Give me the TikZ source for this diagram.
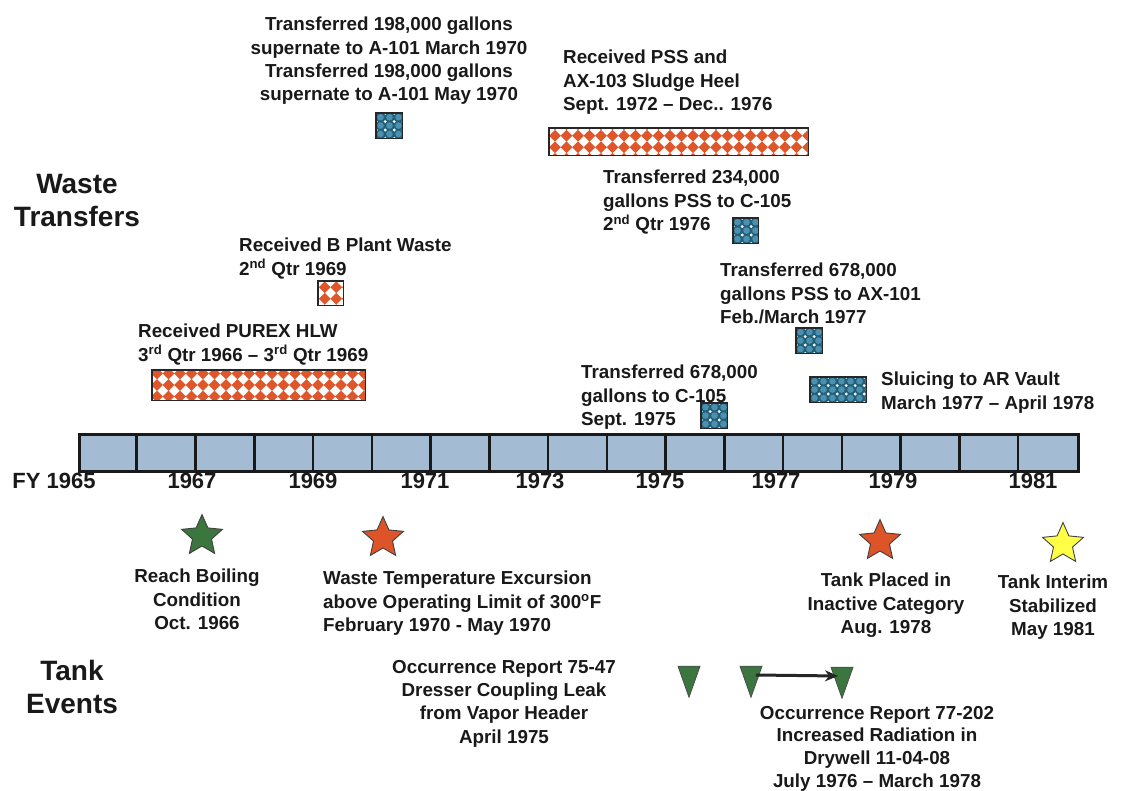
\documentclass[tikz,border=0pt]{standalone}
\usepackage{fontspec}
\setmainfont{Liberation Sans}
\usetikzlibrary{shapes.geometric,arrows.meta,calc}
\definecolor{txt}{RGB}{25,25,25}
\definecolor{dorange}{RGB}{222,86,42}
\definecolor{tlfill}{RGB}{163,188,212}
\definecolor{pblue}{RGB}{35,95,120}
\definecolor{pmid}{RGB}{75,145,175}
\definecolor{pdot}{RGB}{240,248,252}
\definecolor{sgreen}{RGB}{58,118,62}
\definecolor{sred}{RGB}{220,84,40}
\definecolor{syellow}{RGB}{255,255,70}
% #1 node name, #2 x phase, #3 y phase
\newcommand\fillred[3]{%
  \begin{scope}
    \clip (#1.north west) rectangle (#1.south east);
    \begin{scope}[shift={(#1.north west)}]
      \foreach \j in {-1,...,3}{
        \foreach \i in {-1,...,23}{
          \pgfmathsetmacro{\cx}{#2+11.5*\i}
          \pgfmathsetmacro{\cy}{#3+11.5*\j}
          \fill[dorange] (\cx-5.9,\cy) -- (\cx,\cy-5.9) -- (\cx+5.9,\cy) -- (\cx,\cy+5.9) -- cycle;
        }
      }
    \end{scope}
  \end{scope}
  \draw[line width=1.1pt, black!85] (#1.north west) rectangle (#1.south east);
}
\newcommand\fillblue[1]{%
  \begin{scope}
    \clip (#1.north west) rectangle (#1.south east);
    \fill[pblue] (#1.north west) rectangle (#1.south east);
    \begin{scope}[shift={(#1.north west)}]
      \foreach \j in {0,...,3}{
        \foreach \i in {0,...,7}{
          \fill[pmid] (9*\i+4.5,8.4*\j+4.2) circle (3.3);
          \fill[pdot] (9*\i+0.2,8.4*\j+0.2) circle (1.6);
        }
      }
    \end{scope}
  \end{scope}
  \draw[line width=1.1pt, black!85] (#1.north west) rectangle (#1.south east);
}
\begin{document}
\begin{tikzpicture}[x=1pt,y=-1pt,
  lbl/.style={font=\bfseries\fontsize{18.8}{23.3}\selectfont, inner sep=0pt, text=txt},
  big/.style={font=\bfseries\fontsize{28}{33}\selectfont, inner sep=0pt, text=txt, align=center, anchor=north},
  yr/.style={font=\bfseries\fontsize{22}{26}\selectfont, inner sep=0pt, text=txt, anchor=center},
  patbox/.style={inner sep=0pt, anchor=north west, fill=white},
  starn/.style={star, star points=5, star point ratio=2.15, minimum size=43pt, inner sep=0pt, draw=black!75, line width=0.9pt},
  tri/.style={isosceles triangle, isosceles triangle stretches, shape border rotate=270, minimum width=22pt, minimum height=31pt, inner sep=0pt, fill=sgreen, draw=black!70, line width=0.8pt},
  arr/.style={-{Stealth[length=13pt,width=11pt]}, line width=3pt, draw=black!85}
]
\useasboundingbox (0,0) rectangle (1121,791);
\fill[white] (0,0) rectangle (1121,791);

% side headings
\node[big] (wt) at (77,174) {Waste\\Transfers};
\node[big] (te) at (72,660) {Tank\\Events};

% timeline
\node[draw=black!90, line width=3pt, fill=tlfill, inner sep=0pt, anchor=north west, minimum width=999pt, minimum height=37pt] (tl) at (78,433) {};
\foreach \k in {1,...,16}{
  \draw[line width=2.6pt, black!90] ($(tl.north west)+(58.76*\k,0)$) -- ($(tl.south west)+(58.76*\k,0)$);
}

% year labels
\node[yr] (y65) at (54,481) {FY 1965};
\node[yr] (y67) at (192,481) {1967};
\node[yr] (y69) at (313,481) {1969};
\node[yr] (y71) at (425,481) {1971};
\node[yr] (y73) at (540,481) {1973};
\node[yr] (y75) at (660,481) {1975};
\node[yr] (y77) at (776,481) {1977};
\node[yr] (y79) at (893,481) {1979};
\node[yr] (y81) at (1033,481) {1981};

% waste transfer texts and bars
\node[lbl, align=center, anchor=north] (t1) at (389,17) {Transferred 198,000 gallons\\supernate to A-101 March 1970\\Transferred 198,000 gallons\\supernate to A-101 May 1970};
\node[patbox, minimum width=26pt, minimum height=25pt] (b1) at (376,113) {};
\fillblue{b1}

\node[lbl, align=left, anchor=north west] (t2) at (563,50) {Received PSS and\\AX-103 Sludge Heel\\Sept. 1972 -- Dec.. 1976};
\node[patbox, minimum width=259pt, minimum height=27pt] (r2) at (549,128) {};
\fillred{r2}{6}{7.75}

\node[lbl, align=left, anchor=north west] (t3) at (603,170) {Transferred 234,000\\gallons PSS to C-105\\2\textsuperscript{nd} Qtr 1976};
\node[patbox, minimum width=25pt, minimum height=25pt] (b3) at (733,218) {};
\fillblue{b3}

\node[lbl, align=left, anchor=north west] (t4) at (239,238) {Received B Plant Waste\\2\textsuperscript{nd} Qtr 1969};
\node[patbox, minimum width=25pt, minimum height=24pt] (r4) at (318,281) {};
\fillred{r4}{6.75}{6.25}

\node[lbl, align=left, anchor=north west] (t5) at (720,263) {Transferred 678,000\\gallons PSS to AX-101\\Feb./March 1977};
\node[patbox, minimum width=26pt, minimum height=25pt] (b5) at (796,328) {};
\fillblue{b5}

\node[lbl, align=left, anchor=north west] (t6) at (138,324) {Received PUREX HLW\\3\textsuperscript{rd} Qtr 1966 -- 3\textsuperscript{rd} Qtr 1969};
\node[patbox, minimum width=213pt, minimum height=30pt] (r6) at (152,370) {};
\fillred{r6}{5}{3.5}

\node[lbl, align=left, anchor=north west] (t7) at (581,365) {Transferred 678,000\\gallons to C-105\\Sept. 1975};
\node[patbox, minimum width=26pt, minimum height=25pt] (b7) at (701,403) {};
\fillblue{b7}

\node[patbox, minimum width=56pt, minimum height=25pt] (b8) at (810,377) {};
\fillblue{b8}
\node[lbl, align=left, anchor=north west] (t8) at (881,372) {Sluicing to AR Vault\\March 1977 -- April 1978};

% stars
\node[starn, fill=sgreen] (st1) at (202,536) {};
\node[starn, fill=sred] (st2) at (383,538) {};
\node[starn, fill=sred] (st3) at (880,541) {};
\node[starn, fill=syellow] (st4) at (1063,544) {};

\node[lbl, align=center, anchor=north] (s1) at (197,569) {Reach Boiling\\Condition\\Oct. 1966};
\node[lbl, align=left, anchor=north west] (s2) at (323,571) {Waste Temperature Excursion\\above Operating Limit of 300\textsuperscript{o}F\\February 1970 - May 1970};
\node[lbl, align=center, anchor=north] (s3) at (886,573) {Tank Placed in\\Inactive Category\\Aug. 1978};
\node[lbl, align=center, anchor=north] (s4) at (1053,575) {Tank Interim\\Stabilized\\May 1981};

% tank events triangles
\node[tri] (tr1) at (689,674) {};
\node[tri] (tr2) at (751,674) {};
\node[tri] (tr3) at (842,675) {};
\draw[arr] ([xshift=5pt,yshift=-1pt]tr2.center) -- ([xshift=-4pt,yshift=-1pt]tr3.center);

\node[lbl, align=center, anchor=north] (o1) at (504,660) {Occurrence Report 75-47\\Dresser Coupling Leak\\from Vapor Header\\April 1975};
\node[lbl, align=center, anchor=north, font=\bfseries\fontsize{18.8}{22.6}\selectfont] (o2) at (877,706) {Occurrence Report 77-202\\Increased Radiation in\\Drywell 11-04-08\\July 1976 -- March 1978};
\end{tikzpicture}
\end{document}
